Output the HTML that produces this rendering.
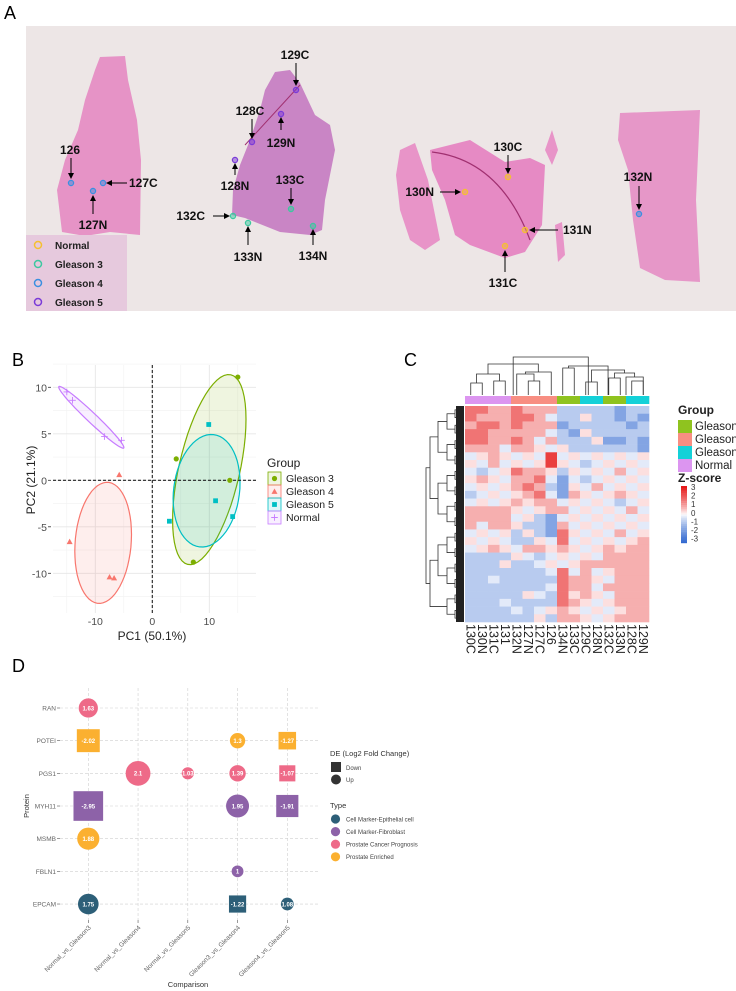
<!DOCTYPE html>
<html><head><meta charset="utf-8"><style>
html,body{margin:0;padding:0;background:#fff;}
svg{display:block;font-family:"Liberation Sans",sans-serif;}
</style></head><body>
<svg id="fig" width="736" height="991" viewBox="0 0 736 991" xmlns="http://www.w3.org/2000/svg">
<defs>
<marker id="ah" markerWidth="6" markerHeight="6" refX="5" refY="3" orient="auto"><path d="M0,0 L6,3 L0,6 z" fill="#000"/></marker>
</defs>
<g>
<text x="4" y="19" font-size="18">A</text>
<rect x="26" y="26" width="710" height="285" fill="#ede6e6"/>
<polygon fill="#e693c6" points="100,57 125,56 128,80 137,120 141,160 140,235 110,232 85,236 62,232 57,190 65,160 78,130 85,100 95,70"/>
<polygon fill="#c985c5" points="275,72 290,70 300,83 315,115 330,125 335,150 330,175 325,200 322,230 310,235 280,232 245,218 232,215 233,190 240,165 250,140 260,110 265,90"/>
<polygon fill="#e68ac4" points="430,150 470,140 505,162 530,158 545,165 542,225 525,252 505,258 470,245 455,235 445,200 432,170"/>
<polygon fill="#e894c8" points="400,150 415,143 428,180 440,240 425,250 410,240 400,210 396,175"/>
<polygon fill="#e894c8" points="545,150 552,130 558,150 552,165"/>
<polygon fill="#e894c8" points="555,225 562,222 565,255 558,262"/>
<polygon fill="#e697c8" points="620,113 700,110 696,200 700,282 665,280 640,268 633,220 628,170 618,140"/>
<path d="M432,152 Q500,160 530,240" stroke="#a03070" stroke-width="1.2" fill="none"/>
<path d="M245,145 L300,85" stroke="#a03070" stroke-width="1" fill="none"/>
<rect x="26" y="235" width="101" height="76" fill="#e6c9dd"/>
<g font-size="10" font-weight="bold" fill="#222">
<circle cx="38" cy="245" r="3.5" fill="none" stroke="#f5c030" stroke-width="1.5"/><text x="55" y="249">Normal</text>
<circle cx="38" cy="264" r="3.5" fill="none" stroke="#3cc8a0" stroke-width="1.5"/><text x="55" y="268">Gleason 3</text>
<circle cx="38" cy="283" r="3.5" fill="none" stroke="#3a8fe0" stroke-width="1.5"/><text x="55" y="287">Gleason 4</text>
<circle cx="38" cy="302" r="3.5" fill="none" stroke="#7a3ad8" stroke-width="1.5"/><text x="55" y="306">Gleason 5</text>
</g>
<g id="aAnn" font-size="12" font-weight="bold" fill="#111"></g>
</g>
<g id="panelB"></g>
<g id="panelC"></g>
<g id="panelD"></g>
</svg>
<script>
var NS="http://www.w3.org/2000/svg";
function mk(parent,tag,attrs,name,inter){var e=document.createElementNS(NS,tag);for(var k in attrs)e.setAttribute(k,attrs[k]);


parent.appendChild(e);return e;}
function txt(parent,x,y,s,attrs,name){var a={x:x,y:y};for(var k in attrs)a[k]=attrs[k];var t=mk(parent,'text',a,name,false);t.textContent=s;return t;}

var sampleNames=["126","127C","127N","129C","128C","129N","128N","133C","132C","133N","134N","130C","130N","131N","131C","132N"];
var sampleGroup=["G4","G4","G4","G5","G5","G5","G5","G3","G3","G3","G3","N","N","N","N","G4"];
var dotXY=[[71,183],[103,183],[93,191],[296,90],[252,142],[281,114],[235,160],[291,209],[233,216],[248,223],[313,226],[508,177],[465,192],[525,230],[505,246],[639,214]];
var lblXY=[[70,154,"middle"],[129,187,"start"],[93,229,"middle"],[295,59,"middle"],[250,115,"middle"],[281,147,"middle"],[235,190,"middle"],[290,184,"middle"],[205,220,"end"],[248,261,"middle"],[313,260,"middle"],[508,151,"middle"],[434,196,"end"],[563,234,"start"],[503,287,"middle"],[638,181,"middle"]];
var arr=[[71,158,71,178],[127,183,107,183],[93,214,93,196],[296,63,296,85],[252,119,252,138],[281,130,281,118],[235,175,235,164],[291,188,291,204],[213,216,229,216],[248,245,248,227],[313,245,313,230],[508,155,508,173],[440,192,460,192],[558,230,530,230],[505,272,505,251],[639,186,639,209]];
var gcol={N:"#f5c030",G3:"#3cc8a0",G4:"#3a8fe0",G5:"#7a3ad8"};
var aA=document.getElementById('aAnn');
for(var i=0;i<sampleNames.length;i++){
 mk(aA,'circle',{cx:dotXY[i][0],cy:dotXY[i][1],r:2.6,fill:gcol[sampleGroup[i]],'fill-opacity':0.5,stroke:gcol[sampleGroup[i]],'stroke-width':1.2},'sample-dot-'+sampleNames[i],false);
 var a=arr[i];mk(aA,'line',{x1:a[0],y1:a[1],x2:a[2],y2:a[3],stroke:'#000','stroke-width':1,'marker-end':'url(#ah)'},'arrow-'+sampleNames[i],false);
 txt(aA,lblXY[i][0],lblXY[i][1],sampleNames[i],{'text-anchor':lblXY[i][2]},'label-'+sampleNames[i]);
}

var pcaGroups=["Gleason 3","Gleason 4","Gleason 5","Normal"];
var pc1G3=[4.2,13.6,7.2,15.0], pc2G3=[2.3,0.0,-8.8,11.1];
var pc1G4=[-14.5,-7.5,-6.7,-5.8], pc2G4=[-6.6,-10.4,-10.5,0.6];
var pc1G5=[9.9,11.1,14.1,3.0], pc2G5=[6.0,-2.2,-3.9,-4.4];
var pc1N=[-15.0,-14.0,-8.4,-5.4], pc2N=[9.5,8.6,4.7,4.3];
var xTicksB=[-10,0,10], yTicksB=[-10,-5,0,5,10];
var B=document.getElementById('panelB');

function xB(v){return 152.3+v*5.7;} function yB(v){return 480.3-v*9.3;}
var pL=53,pR=256,pT=365,pBt=613;
txt(B,12,366,"B",{'font-size':18},'panel-b-label');
[-15,-5,5,15].forEach(function(v){mk(B,'line',{x1:xB(v),x2:xB(v),y1:pT,y2:pBt,stroke:'#f2f2f2','stroke-width':0.6},'minor-grid-x',false);});
[-12.5,-7.5,-2.5,2.5,7.5,12.5].forEach(function(v){mk(B,'line',{x1:pL,x2:pR,y1:yB(v),y2:yB(v),stroke:'#f2f2f2','stroke-width':0.6},'minor-grid-y',false);});
xTicksB.forEach(function(v){mk(B,'line',{x1:xB(v),x2:xB(v),y1:pT,y2:pBt,stroke:'#e6e6e6','stroke-width':0.9},'major-grid-x',false);
 txt(B,xB(v),625,String(v),{'font-size':10.5,'text-anchor':'middle',fill:'#4d4d4d'},'x-tick-label');});
yTicksB.forEach(function(v){mk(B,'line',{x1:pL,x2:pR,y1:yB(v),y2:yB(v),stroke:'#e6e6e6','stroke-width':0.9},'major-grid-y',false);
 txt(B,47,yB(v)+4,String(v),{'font-size':10.5,'text-anchor':'end',fill:'#4d4d4d'},'y-tick-label');
 mk(B,'line',{x1:48,x2:51,y1:yB(v),y2:yB(v),stroke:'#333','stroke-width':0.8},'y-tick',false);});
var colB=["#7CAE00","#F8766D","#00BFC4","#C77CFF"];
var setsB=[[pc1G3,pc2G3],[pc1G4,pc2G4],[pc1G5,pc2G5],[pc1N,pc2N]];
function ellipse(xs,ys){var n=xs.length,mx=0,my=0;for(var i=0;i<n;i++){mx+=xs[i];my+=ys[i];}mx/=n;my/=n;
 var sxx=0,syy=0,sxy=0;for(i=0;i<n;i++){var dx=xs[i]-mx,dy=ys[i]-my;sxx+=dx*dx;syy+=dy*dy;sxy+=dx*dy;}sxx/=(n-1);syy/=(n-1);sxy/=(n-1);
 var l11=Math.sqrt(sxx),l21=sxy/l11,l22=Math.sqrt(Math.max(syy-l21*l21,1e-6));var r=1.25,d="";
 for(var k=0;k<=60;k++){var t=k/60*2*Math.PI,c=Math.cos(t),s=Math.sin(t);var ex=mx+r*(l11*c),ey=my+r*(l21*c+l22*s);d+=(k?"L":"M")+xB(ex).toFixed(1)+","+yB(ey).toFixed(1);}
 return d+"Z";}
[0,1,2,3].forEach(function(g){mk(B,'path',{d:ellipse(setsB[g][0],setsB[g][1]),fill:colB[g],'fill-opacity':0.12,stroke:colB[g],'stroke-width':1.2},'ellipse-'+pcaGroups[g].toLowerCase().replace(' ','-'),false);});
mk(B,'line',{x1:xB(0),x2:xB(0),y1:pT,y2:pBt,stroke:'#222','stroke-width':1.1,'stroke-dasharray':'3,2'},'zero-line-x',false);
mk(B,'line',{x1:pL,x2:pR,y1:yB(0),y2:yB(0),stroke:'#222','stroke-width':1.1,'stroke-dasharray':'3,2'},'zero-line-y',false);
function shape(par,g,x,y,sc,name){var c=colB[g];
 if(g==0)return mk(par,'circle',{cx:x,cy:y,r:2.6*sc,fill:c},name,false);
 if(g==1)return mk(par,'polygon',{points:x+','+(y-3*sc)+' '+(x+3*sc)+','+(y+2.4*sc)+' '+(x-3*sc)+','+(y+2.4*sc),fill:c},name,false);
 if(g==2)return mk(par,'rect',{x:x-2.4*sc,y:y-2.4*sc,width:4.8*sc,height:4.8*sc,fill:c},name,false);
 return mk(par,'path',{d:'M'+(x-3.3*sc)+','+y+'H'+(x+3.3*sc)+'M'+x+','+(y-3.3*sc)+'V'+(y+3.3*sc),stroke:c,'stroke-width':0.9},name,false);}
setsB.forEach(function(s,g){for(var i=0;i<s[0].length;i++)shape(B,g,xB(s[0][i]),yB(s[1][i]),1,'point-'+pcaGroups[g].toLowerCase().replace(' ','-'));});
txt(B,152,640,"PC1 (50.1%)",{'font-size':12,'text-anchor':'middle',fill:'#222'},'x-axis-title');
txt(B,0,0,"PC2 (21.1%)",{'font-size':12,'text-anchor':'middle',fill:'#222',transform:'translate(35,480) rotate(-90)'},'y-axis-title');
txt(B,267,467,"Group",{'font-size':12,fill:'#222'},'legend-title-b');
pcaGroups.forEach(function(gn,g){var y=478+g*13;mk(B,'rect',{x:268,y:y-6,width:13,height:13,fill:colB[g],'fill-opacity':0.12,stroke:colB[g],'stroke-width':0.8},'legend-key',false);
 shape(B,g,274.5,y+0.5,1,'legend-symbol');txt(B,286,y+4,gn,{'font-size':10.5,fill:'#222'},'legend-entry-'+gn.toLowerCase().replace(' ','-'));});

var hmCols=["130C","130N","131C","131","132N","127N","127C","126","134N","133C","129C","128N","132C","133N","128C","129N"];
var hmGroups=["N","N","N","N","G4","G4","G4","G4","G3","G3","G5","G5","G3","G3","G5","G5"];
var hmRows=["5544544422222122","5444554322322121","4554544412222212","5544444321322222","5544543422231121","4443443332222221","3343333633333333","3343333633233333","3233544323333433","3433445313233333","3333454213343333","2333345314333433","3333434433333233","4444333443333343","4444332133333333","4344322143333333","3333232153333433","3333223353333334","3343344343334344","2222332333334444","2223223333444444","2222222353433444","2232222254433444","2222222354434444","2222233253433444","2223222254333444","2222323343333344","2222223244333444"];
var C=document.getElementById('panelC');

txt(C,404,366,"C",{'font-size':18},'panel-c-label');
var hx0=465,hx1=649,hy0=406,hy1=622,cw=(hx1-hx0)/hmCols.length,rh=(hy1-hy0)/hmRows.length;
function zcol(v){var t=Math.pow(Math.min(1,Math.abs(v)/3),0.8);var b=v>=0?[230,25,25]:[50,105,208];
 return 'rgb('+Math.round(255+(b[0]-255)*t)+','+Math.round(255+(b[1]-255)*t)+','+Math.round(255+(b[2]-255)*t)+')';}
for(var r=0;r<hmRows.length;r++)for(var c=0;c<hmCols.length;c++){var v=parseInt(hmRows[r][c])-3;
 var vv=v===0?((r+c)%2?0.25:-0.25):v*0.8;
 mk(C,'rect',{x:(hx0+c*cw).toFixed(2),y:(hy0+r*rh).toFixed(2),width:(cw+0.3).toFixed(2),height:(rh+0.3).toFixed(2),fill:zcol(vv)},'heatmap-cell',false);}
var hcol={N:"#dc95f0",G3:"#8fc31f",G4:"#f88e82",G5:"#14d1d8"};
hmCols.forEach(function(n,c){mk(C,'rect',{x:hx0+c*cw,y:396,width:cw+0.3,height:8,fill:hcol[hmGroups[c]]},'group-annotation-'+n,false);
 txt(C,0,0,n,{'font-size':12.5,fill:'#222',transform:'translate('+(hx0+c*cw+cw/2-4.5)+',624) rotate(90)'},'column-label-'+n);});
function cx(i){return hx0+(i+0.5)*cw;}
var dl=[[0,1,383],[2,3,381],[0.5,2.5,374],[5,6,381],[4,5.5,374],[4.75,7,372],[1.5,5.875,364],[8,9,368],[10,11,382],[12,13,378],[14,15,381],[13.5,15,377],[12.5,14.25,373],[10.5,13.375,370],[8.5,11.94,366],[3.69,10.22,357]];
var dh={};
function leafTop(p){return dh[p]!==undefined?dh[p]:395;}
dl.forEach(function(m){var a=m[0],b=m[1],h=m[2];var xa=cx(a),xb=cx(b);
 mk(C,'path',{d:'M'+xa+','+leafTop(a)+'V'+h+'H'+xb+'V'+leafTop(b),fill:'none',stroke:'#333','stroke-width':0.8},'column-dendrogram',false);
 dh[(a+b)/2]=h;});
var rd="";var n=hmRows.length;var lvl=[];for(var i=0;i<n;i++)lvl.push({y:hy0+(i+0.5)*rh,x:463});
var xs=[455,447,438,430,426];var li=0;
while(lvl.length>1){var nx=[];var X=xs[Math.min(li,xs.length-1)];
 for(var i=0;i<lvl.length;i+=2){if(i+1<lvl.length){var A=lvl[i],Bb=lvl[i+1];rd+='M'+A.x+','+A.y+'H'+X+'V'+Bb.y+'H'+Bb.x;nx.push({x:X,y:(A.y+Bb.y)/2});}else nx.push(lvl[i]);}
 lvl=nx;li++;}
mk(C,'path',{d:rd,fill:'none',stroke:'#333','stroke-width':0.8},'row-dendrogram',false);
mk(C,'rect',{x:456,y:hy0,width:8,height:hy1-hy0,fill:'#222'},'row-dendrogram-dense',false);
txt(C,678,414,"Group",{'font-size':12,'font-weight':'bold',fill:'#222'},'legend-title-c');
var lgC=[["Gleason 3","G3"],["Gleason 4","G4"],["Gleason 5","G5"],["Normal","N"]];
lgC.forEach(function(e,i){var y=420+i*13;mk(C,'rect',{x:678,y:y,width:14,height:13,fill:hcol[e[1]]},'legend-swatch',false);
 txt(C,695,y+10,e[0],{'font-size':11.5,fill:'#222'},'legend-entry-c-'+e[1]);});
txt(C,678,482,"Z-score",{'font-size':12,'font-weight':'bold',fill:'#222'},'zscore-title');
var zt=[3,2,1,0,-1,-2,-3];
for(var k=0;k<30;k++){var v=3-6*k/29;mk(C,'rect',{x:681,y:486+k*1.9,width:6,height:2.1,fill:zcol(v)},'colorbar-segment',false);}
zt.forEach(function(v,i){txt(C,691,490+i*8.6,String(v),{'font-size':8,fill:'#333'},'colorbar-label');});

var proteins=["RAN","POTEI","PGS1","MYH11","MSMB","FBLN1","EPCAM"];
var comparisons=["Normal_vs_Gleason3","Normal_vs_Gleason4","Normal_vs_Gleason5","Gleason3_vs_Gleason4","Gleason4_vs_Gleason5"];
var deProtein=["RAN","POTEI","POTEI","POTEI","PGS1","PGS1","PGS1","PGS1","MYH11","MYH11","MYH11","MSMB","FBLN1","EPCAM","EPCAM","EPCAM"];
var deComp=[0,0,3,4,1,2,3,4,0,3,4,0,3,0,3,4];
var deValue=[1.63,-2.02,1.3,-1.27,2.1,1.03,1.39,-1.07,-2.95,1.95,-1.91,1.88,1,1.75,-1.22,1.08];
var deType=["prog","enr","enr","enr","prog","prog","prog","prog","fib","fib","fib","enr","fib","epi","epi","epi"];
var typeNames=[["epi","Cell Marker-Epithelial cell"],["fib","Cell Marker-Fibroblast"],["prog","Prostate Cancer Prognosis"],["enr","Prostate Enriched"]];
var tcol={epi:"#2d5f78",fib:"#8d62a8",prog:"#ee6a88",enr:"#fbb030"};
var D=document.getElementById('panelD');

txt(D,12,672,"D",{'font-size':18},'panel-d-label');
function xD(i){return 88.3+i*49.75;} function yD(p){return 708+proteins.indexOf(p)*32.67;}
comparisons.forEach(function(cn,i){mk(D,'line',{x1:xD(i),x2:xD(i),y1:688,y2:920,stroke:'#cfcfcf','stroke-width':0.6,'stroke-dasharray':'3,2'},'grid-x',false);
 mk(D,'line',{x1:xD(i),x2:xD(i),y1:920,y2:923,stroke:'#555','stroke-width':0.6},'x-tick',false);
 txt(D,0,0,cn,{'font-size':6.5,fill:'#666','text-anchor':'end',transform:'translate('+(xD(i)+3)+',928) rotate(-45)'},'x-label-'+cn);});
proteins.forEach(function(p){mk(D,'line',{x1:60,x2:318,y1:yD(p),y2:yD(p),stroke:'#cfcfcf','stroke-width':0.6,'stroke-dasharray':'3,2'},'grid-y',false);
 mk(D,'line',{x1:57,x2:60,y1:yD(p),y2:yD(p),stroke:'#555','stroke-width':0.6},'y-tick',false);
 txt(D,56,yD(p)+2.5,p,{'font-size':6.5,fill:'#666','text-anchor':'end'},'y-label-'+p);});
for(var i=0;i<deValue.length;i++){var v=deValue[i],x=xD(deComp[i]),y=yD(deProtein[i]),c=tcol[deType[i]];
 if(v>0){mk(D,'circle',{cx:x,cy:y,r:5.9*v,fill:c},'de-circle-'+deProtein[i],false);}
 else{var s=8.4+7.2*Math.abs(v);mk(D,'rect',{x:x-s/2,y:y-s/2,width:s,height:s,fill:c},'de-square-'+deProtein[i],false);}
 txt(D,x,y+2.3,String(v),{'font-size':6,'font-weight':'bold',fill:'#fff','text-anchor':'middle'},'de-value-label');}
txt(D,0,0,"Protein",{'font-size':7.5,fill:'#333','text-anchor':'middle',transform:'translate(29,806) rotate(-90)'},'y-axis-title-d');
txt(D,188,987,"Comparison",{'font-size':7.5,fill:'#333','text-anchor':'middle'},'x-axis-title-d');
txt(D,330,756,"DE (Log2 Fold Change)",{'font-size':7.5,fill:'#333'},'legend-title-de');
mk(D,'rect',{x:331,y:762,width:10,height:10,fill:'#333'},'legend-down-key',false);
txt(D,346,770,"Down",{'font-size':6,fill:'#444'},'legend-down');
mk(D,'circle',{cx:336,cy:779.5,r:5,fill:'#333'},'legend-up-key',false);
txt(D,346,782,"Up",{'font-size':6,fill:'#444'},'legend-up');
txt(D,330,808,"Type",{'font-size':7.5,fill:'#333'},'legend-title-type');
typeNames.forEach(function(t,i){var y=819+i*12.6;mk(D,'circle',{cx:335.5,cy:y,r:4.6,fill:tcol[t[0]]},'legend-type-key',false);
 txt(D,346,y+2.3,t[1],{'font-size':6,fill:'#444'},'legend-type-'+t[0]);});
</script>
</body></html>
